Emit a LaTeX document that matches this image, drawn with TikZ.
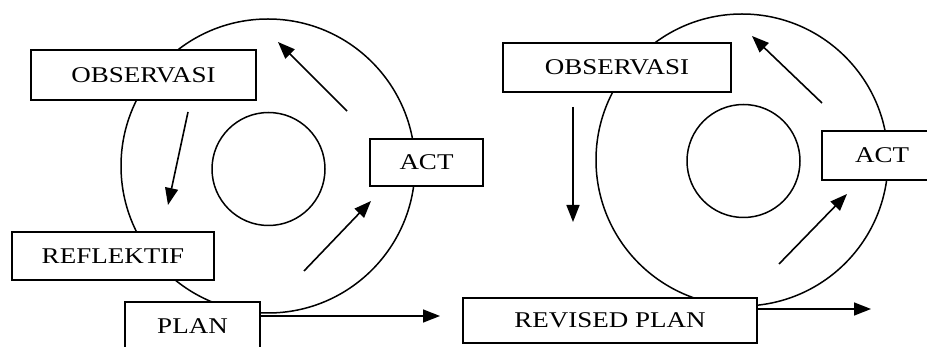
\documentclass[tikz,border=0pt]{standalone}
\usepackage{fontspec}
\setmainfont{Liberation Serif}[FakeStretch=1.2]
\usetikzlibrary{arrows.meta}
\begin{document}
\begin{tikzpicture}[x=1pt,y=-1pt,
  box/.style={draw,line width=1.6pt,fill=white,inner sep=0pt,font=\fontsize{22.5}{25}\selectfont},
  ring/.style={draw,line width=1.5pt},
  arr/.style={line width=1.6pt,-{Triangle[length=17pt,width=13pt]}}]
\clip (0,0) rectangle (927,347);
\fill[white] (0,0) rectangle (927,347);
% left cycle
\draw[ring] (268,166) circle (147);
\draw[ring] (268.5,169) circle (56.5);
\node[box,minimum width=225,minimum height=50] (obs1) at (143.5,75) {OBSERVASI};
\node[box,minimum width=202,minimum height=48] (ref1) at (113,256) {REFLEKTIF};
\node[box,minimum width=135,minimum height=48] (plan1) at (192.5,326) {PLAN};
\node[box,minimum width=113,minimum height=47] (act1) at (426.5,162.5) {ACT};
\coordinate (a1s) at (188,112); \coordinate (a1e) at (168,205);
\coordinate (a2s) at (304,271); \coordinate (a2e) at (371,201);
\coordinate (a3s) at (347,111); \coordinate (a3e) at (278,42);
\coordinate (p1s) at (260,316); \coordinate (p1e) at (440,316);
\draw[arr] (a1s) -- (a1e);
\draw[arr] (a2s) -- (a2e);
\draw[arr] (a3s) -- (a3e);
\draw[arr] (p1s) -- (p1e);
% right cycle
\draw[ring] (742,160) circle (146);
\draw[ring] (743.5,161) circle (56.5);
\node[box,minimum width=228,minimum height=49] (obs2) at (617,67.5) {OBSERVASI};
\node[box,minimum width=120,minimum height=49] (act2) at (882,155.5) {ACT};
\node[box,minimum width=294,minimum height=45] (plan2) at (610,320.5) {REVISED PLAN};
\coordinate (b1s) at (573,107); \coordinate (b1e) at (573,222);
\coordinate (b2s) at (779,264); \coordinate (b2e) at (847,194);
\coordinate (b3s) at (822,103); \coordinate (b3e) at (752,36);
\coordinate (p2s) at (757,309); \coordinate (p2e) at (871,309);
\draw[arr] (b1s) -- (b1e);
\draw[arr] (b2s) -- (b2e);
\draw[arr] (b3s) -- (b3e);
\draw[arr] (p2s) -- (p2e);
\end{tikzpicture}
\end{document}
